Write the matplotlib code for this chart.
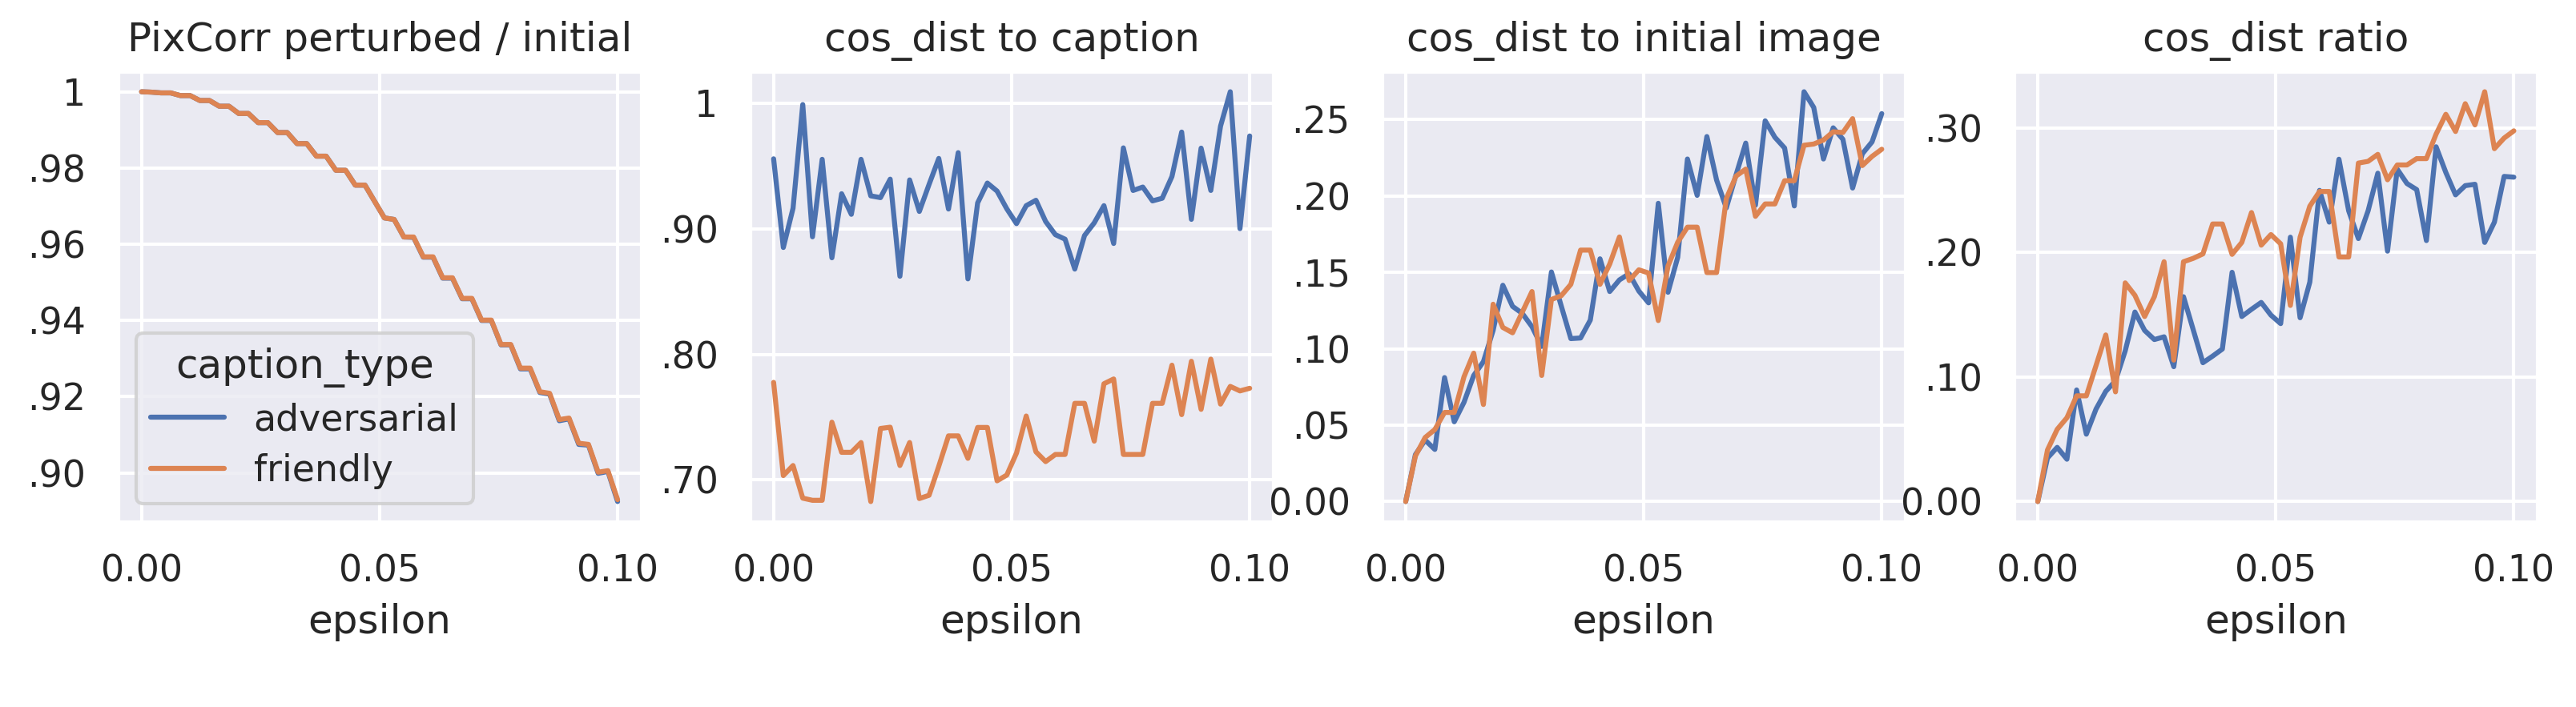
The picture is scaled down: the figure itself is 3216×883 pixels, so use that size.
import numpy as np
import matplotlib
matplotlib.use('Agg')
import matplotlib.pyplot as plt
import seaborn as sns
from matplotlib.ticker import MultipleLocator, FuncFormatter

sns.set_theme()

# epsilon grid (50 steps between 0 and 0.1)
epsilon = np.linspace(0, 0.1, 50)

# PixCorr perturbed / initial
pix_friendly = [1.0000, 0.9999, 0.9997, 0.9997, 0.9990, 0.9990, 0.9977, 0.9977, 0.9962, 0.9962,
                0.9943, 0.9943, 0.9919, 0.9919, 0.9893, 0.9893, 0.9864, 0.9864, 0.9831, 0.9831,
                0.9794, 0.9794, 0.9755, 0.9755, 0.9712, 0.9669, 0.9665, 0.9619, 0.9619, 0.9567,
                0.9567, 0.9512, 0.9512, 0.9458, 0.9458, 0.9401, 0.9401, 0.9337, 0.9337, 0.9275,
                0.9275, 0.9213, 0.9209, 0.9140, 0.9144, 0.9078, 0.9075, 0.9002, 0.9006, 0.8930]
pix_adversarial = [1.0000, 0.9999, 0.9997, 0.9997, 0.9990, 0.9990, 0.9977, 0.9977, 0.9962, 0.9962,
                   0.9943, 0.9943, 0.9919, 0.9919, 0.9893, 0.9893, 0.9864, 0.9864, 0.9831, 0.9831,
                   0.9794, 0.9794, 0.9755, 0.9755, 0.9712, 0.9669, 0.9665, 0.9619, 0.9618, 0.9566,
                   0.9566, 0.9511, 0.9511, 0.9457, 0.9457, 0.9400, 0.9400, 0.9336, 0.9336, 0.9273,
                   0.9273, 0.9211, 0.9207, 0.9137, 0.9142, 0.9075, 0.9073, 0.8999, 0.9004, 0.8925]

# cos_dist to caption
cap_adversarial = [0.9557, 0.8851, 0.9163, 0.9989, 0.8936, 0.9553, 0.8769, 0.9279, 0.9115, 0.9553,
                   0.9262, 0.9248, 0.9395, 0.8622, 0.9389, 0.9138, 0.9353, 0.9560, 0.9157, 0.9606,
                   0.8601, 0.9206, 0.9364, 0.9300, 0.9159, 0.9041, 0.9184, 0.9227, 0.9058, 0.8953,
                   0.8917, 0.8679, 0.8946, 0.9047, 0.9184, 0.8883, 0.9644, 0.9305, 0.9332, 0.9222,
                   0.9243, 0.9416, 0.9770, 0.9075, 0.9642, 0.9305, 0.9817, 1.0091, 0.9001, 0.9739]
cap_friendly = [0.7777, 0.7035, 0.7115, 0.6855, 0.6838, 0.6838, 0.7460, 0.7220, 0.7220, 0.7298,
                0.6828, 0.7410, 0.7420, 0.7115, 0.7298, 0.6852, 0.6878, 0.7109, 0.7351, 0.7351,
                0.7172, 0.7418, 0.7418, 0.6993, 0.7039, 0.7214, 0.7509, 0.7224, 0.7146, 0.7203,
                0.7203, 0.7610, 0.7610, 0.7309, 0.7766, 0.7804, 0.7203, 0.7203, 0.7203, 0.7610,
                0.7610, 0.7914, 0.7520, 0.7945, 0.7562, 0.7962, 0.7604, 0.7745, 0.7709, 0.7730]

# cos_dist to initial image
img_adversarial = [0.0000, 0.0307, 0.0402, 0.0341, 0.0811, 0.0522, 0.0649, 0.0825, 0.0915, 0.1120,
                   0.1415, 0.1277, 0.1231, 0.1144, 0.1015, 0.1502, 0.1282, 0.1066, 0.1070, 0.1187,
                   0.1588, 0.1374, 0.1450, 0.1490, 0.1377, 0.1300, 0.1951, 0.1369, 0.1598, 0.2241,
                   0.2003, 0.2388, 0.2103, 0.1921, 0.2137, 0.2345, 0.1939, 0.2491, 0.2383, 0.2313,
                   0.1934, 0.2681, 0.2578, 0.2241, 0.2445, 0.2370, 0.2051, 0.2275, 0.2353, 0.2538]
img_friendly = [0.0000, 0.0298, 0.0419, 0.0471, 0.0583, 0.0583, 0.0816, 0.0971, 0.0635, 0.1291,
                0.1139, 0.1104, 0.1239, 0.1374, 0.0825, 0.1322, 0.1346, 0.1421, 0.1645, 0.1645,
                0.1421, 0.1554, 0.1731, 0.1446, 0.1516, 0.1495, 0.1184, 0.1541, 0.1697, 0.1795,
                0.1795, 0.1498, 0.1498, 0.1982, 0.2129, 0.2175, 0.1866, 0.1947, 0.1947, 0.2099,
                0.2099, 0.2331, 0.2339, 0.2365, 0.2419, 0.2414, 0.2505, 0.2198, 0.2258, 0.2305]

# cos_dist ratio
ratio_adversarial = [0.0000, 0.0350, 0.0435, 0.0340, 0.0896, 0.0541, 0.0743, 0.0885, 0.0970, 0.1210,
                     0.1522, 0.1374, 0.1301, 0.1323, 0.1083, 0.1645, 0.1380, 0.1115, 0.1168, 0.1225,
                     0.1841, 0.1486, 0.1544, 0.1599, 0.1497, 0.1429, 0.2123, 0.1476, 0.1762, 0.2499,
                     0.2244, 0.2749, 0.2335, 0.2112, 0.2335, 0.2637, 0.2011, 0.2669, 0.2554, 0.2505,
                     0.2096, 0.2849, 0.2643, 0.2463, 0.2537, 0.2548, 0.2081, 0.2244, 0.2611, 0.2605]
ratio_friendly = [0.0000, 0.0414, 0.0580, 0.0673, 0.0849, 0.0849, 0.1093, 0.1338, 0.0881, 0.1756,
                  0.1656, 0.1486, 0.1645, 0.1926, 0.1136, 0.1926, 0.1953, 0.1989, 0.2229, 0.2229,
                  0.1985, 0.2081, 0.2321, 0.2059, 0.2144, 0.2070, 0.1575, 0.2123, 0.2372, 0.2490,
                  0.2490, 0.1964, 0.1964, 0.2718, 0.2732, 0.2788, 0.2584, 0.2703, 0.2703, 0.2754,
                  0.2754, 0.2951, 0.3110, 0.2972, 0.3195, 0.3025, 0.3291, 0.2834, 0.2919, 0.2977]

titles = ['PixCorr perturbed / initial', 'cos_dist to caption',
          'cos_dist to initial image', 'cos_dist ratio']
series = [(pix_adversarial, pix_friendly), (cap_adversarial, cap_friendly),
          (img_adversarial, img_friendly), (ratio_adversarial, ratio_friendly)]
y_steps = [0.02, 0.1, 0.05, 0.1]
caption_types = ['adversarial', 'friendly']
colors = sns.color_palette('deep')[:2]


def fmt(v, pos):
    # 1 -> "1", 0 -> "0.00", the rest without the leading zero
    s = '{:.2f}'.format(v)
    if s == '1.00':
        return '1'
    if s.startswith('0.') and s != '0.00':
        return s[1:]
    return s


fig, axes = plt.subplots(1, 4, figsize=(10.7201, 2.9434), dpi=300)
fig.subplots_adjust(left=0.0457, right=0.9851, bottom=0.2616, top=0.8992, wspace=0.207)

for ax, title, (adv, fri), step in zip(axes, titles, series, y_steps):
    ax.plot(epsilon, adv, color=colors[0], label=caption_types[0])
    ax.plot(epsilon, fri, color=colors[1], label=caption_types[1])
    ax.set_title(title)
    ax.set_xlabel('epsilon')
    ax.xaxis.set_major_locator(MultipleLocator(0.05))
    ax.yaxis.set_major_locator(MultipleLocator(step))
    ax.yaxis.set_major_formatter(FuncFormatter(fmt))

axes[0].legend(title='caption_type', loc='lower left', labelspacing=0.4)

fig.savefig('out.png', dpi=300)
